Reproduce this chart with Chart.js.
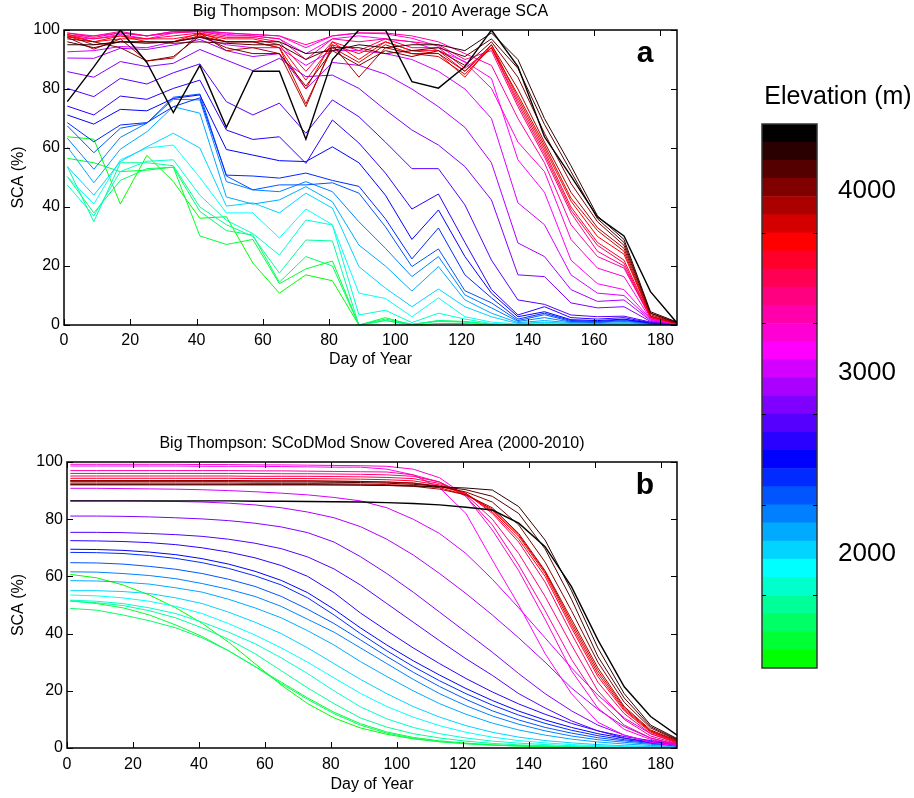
<!DOCTYPE html>
<html>
<head>
<meta charset="utf-8">
<script src="https://cdn.jsdelivr.net/npm/chart.js@4.4.1/dist/chart.umd.min.js"></script>
<style>
  body { margin: 0; background: #fff; }
  #wrap { position: relative; width: 914px; height: 798px; }
  canvas { position: absolute; }
</style>
</head>
<body>
<div id="wrap">
  <canvas id="panelA" width="700" height="380" style="left:0;top:0"></canvas>
  <canvas id="panelB" width="700" height="373" style="left:0;top:425px"></canvas>
  <canvas id="cbar" width="157" height="620" style="left:757px;top:70px"></canvas>
</div>
<script>
// Day of year of each sample (8-day composites)
const days = [1, 9, 17, 25, 33, 41, 49, 57, 65, 73, 81, 89, 97, 105, 113, 121, 129, 137, 145, 153, 161, 169, 177, 185];
const xTicks = [0, 20, 40, 60, 80, 100, 120, 140, 160, 180];
const yTicks = [0, 20, 40, 60, 80, 100];

// elevation band edges (m), 30 bands of 100 m, low -> high
const elevEdges = [1370, 1470, 1570, 1670, 1770, 1870, 1970, 2070, 2170, 2270, 2370, 2470, 2570, 2670, 2770,
  2870, 2970, 3070, 3170, 3270, 3370, 3470, 3570, 3670, 3770, 3870, 3970, 4070, 4170, 4270, 4370];
const cbLabels = [2000, 3000, 4000];
const cbMarks = [1770, 2270, 2770, 3270, 3770];

// MODIS average SCA (%), one row per elevation band, low -> high
const modisSCA = [
  [63.8, 63, 41, 57.5, 48.6, 36.2, 36.7, 21, 10.8, 17, 15, 0, 1.5, 0, 0.5, 0.5, 0, 0, 0, 0, 0, 0, 0, 0],
  [56.5, 55, 52, 52.5, 53.5, 30.2, 27.3, 29, 14, 19, 21.7, 0, 2.5, 0, 1.5, 1.2, 0.3, 0, 0, 0, 0, 0, 0, 0],
  [50.3, 38, 49, 53, 53.5, 38.5, 32, 30.5, 14.5, 23.2, 20, 0, 2, 0.3, 1.2, 1, 0.2, 0, 0, 0, 0, 0, 0, 0],
  [53.7, 35, 55, 55, 54, 40, 34, 30, 17.6, 28.8, 28.5, 0, 1.5, 0.2, 1.5, 1, 0.2, 0, 0, 0, 0, 0, 0, 0],
  [47.5, 37, 52, 55.5, 56, 44, 35.5, 31, 23.7, 35.6, 33.9, 3.4, 5, 0.8, 4, 2, 0.5, 0.2, 0.5, 0.2, 0.1, 0.2, 0, 0],
  [50.3, 41, 56, 60, 61, 50, 38, 38, 29.5, 39.3, 34, 10.8, 9, 2.8, 9.2, 2.8, 1, 0.3, 0.8, 0.3, 0.2, 0.3, 0.1, 0],
  [53.7, 44, 55.4, 60.4, 65, 60, 40.3, 41.4, 38, 44.7, 39.6, 19.8, 12.5, 6.2, 12.2, 6.2, 2.8, 0.5, 1, 0.5, 0.3, 0.5, 0.2, 0],
  [60.4, 48.2, 59.6, 65.5, 74, 71.8, 43.4, 41, 42.4, 46.9, 41.8, 27.1, 20, 11.5, 19.8, 8.5, 4, 0.8, 1.5, 0.8, 0.5, 0.8, 0.3, 0.1],
  [63.3, 52.8, 63.6, 68.4, 76.5, 76.3, 48.6, 45.8, 45.2, 48.6, 45.2, 35, 26, 16.4, 23.2, 10.2, 5.8, 1.2, 2.5, 1, 0.8, 1.2, 0.4, 0.1],
  [67.5, 58.4, 66.7, 68.4, 77.2, 78.3, 50.5, 45.8, 47.5, 47.5, 48.2, 44.7, 33.3, 19.8, 25.8, 11.6, 7.5, 1.5, 3.5, 1.2, 1, 1.5, 0.5, 0.2],
  [68.6, 62.1, 67.8, 68.6, 74, 77, 50.8, 50.5, 49.8, 51.5, 49, 47, 36, 22.4, 32.9, 17, 9.2, 2, 4, 1.5, 1.2, 1.8, 0.6, 0.2],
  [71.2, 68.1, 73.1, 72.6, 76.8, 78, 59.5, 57.6, 55.7, 55.4, 60.4, 55, 44, 29, 39, 23.2, 10.8, 2.8, 4.5, 1.8, 1.5, 2, 0.7, 0.2],
  [74.2, 71.2, 77.6, 76.5, 80.2, 83, 66.1, 62.9, 63.8, 54.8, 69.5, 61.7, 51.5, 39.3, 44.4, 28, 12, 3.4, 6.2, 2.5, 2, 2.5, 0.8, 0.2],
  [80.2, 77.4, 83.6, 81.7, 85.5, 88.5, 75.7, 71.2, 75.2, 65, 76.3, 70.6, 62, 53, 53, 40.7, 22, 8.5, 7, 3.4, 2.8, 3, 1, 0.2],
  [85.9, 84, 89.3, 87.6, 88.7, 93.4, 89.8, 86.2, 90.4, 84.2, 84.7, 80.2, 72.9, 66.1, 61, 53.7, 42.4, 17, 16.4, 7.5, 5.8, 6.2, 1.2, 0.2],
  [90.5, 90.4, 93.8, 93.4, 94.9, 96.8, 93, 91, 92, 80, 89, 88, 85, 80, 74, 67, 55, 27.8, 23.2, 12, 8, 8.5, 1.5, 0.2],
  [92.6, 93, 94.4, 94, 96, 97.5, 95, 94, 94, 88, 93, 93, 92, 90, 86, 80, 70, 41.4, 34, 17, 10.8, 10, 1.8, 0.3],
  [97.5, 97, 98.5, 97, 99, 99.5, 98.5, 98, 97, 92, 97, 98, 97, 96, 93, 89.3, 83.6, 56, 45, 22, 14, 12, 2, 0.3],
  [98, 98, 99, 98, 99.5, 99.5, 99, 98.5, 98, 94, 98, 99, 98.7, 97.2, 94.5, 89, 80.2, 62, 52, 29, 19.3, 16.4, 2, 0.3],
  [99, 98, 99.5, 98, 99.5, 100, 99, 98.5, 98, 95, 98, 99, 99, 98, 96, 92, 88, 70, 55, 34, 23.2, 19.3, 2.5, 0.3],
  [99, 97.5, 99, 98, 99, 99.5, 98, 98, 97, 90, 97, 96, 97, 96, 95, 90, 93, 74, 57, 38, 25, 20, 2.5, 0.4],
  [98.5, 97, 98, 97, 98, 99, 97.5, 97.5, 96, 86, 96, 93, 97, 94, 94, 87, 94, 75, 58, 39, 27, 21, 2.5, 0.4],
  [98.5, 96, 97, 97, 97, 98.5, 97, 97, 95, 83, 95, 92, 96, 93, 93, 86, 94, 76, 59, 40, 28, 22, 2.8, 0.4],
  [98, 96, 98, 96, 96, 99, 96, 96, 94, 80, 96, 90, 96, 93, 92, 84, 95, 77, 60, 42, 30, 24, 3, 0.5],
  [98, 95, 96, 96, 96, 98, 96, 96, 94, 75, 94, 89, 95, 92, 91, 85, 94, 78, 61, 43, 32, 25, 3, 0.5],
  [97.5, 93.5, 97, 89.5, 90.5, 99, 93, 94, 92, 74, 95, 84, 94, 92, 92, 86, 95, 80, 62, 45, 33, 26, 3.5, 0.6],
  [97, 96, 94, 89.5, 91, 98, 94, 92, 92, 81, 93, 88, 93, 91, 93, 88, 96, 84, 65, 48, 35, 27, 4, 0.7],
  [96, 94, 96, 96, 95.5, 96, 95.5, 95, 95, 90, 94, 94, 92, 93, 94, 91, 97, 87, 68, 52, 36, 28, 4, 0.8],
  [95, 95, 96, 95.5, 96, 97.5, 96, 96, 96, 92, 93, 95, 94, 95, 95, 93, 99, 90, 70, 54, 37, 29, 4.5, 1],
  [75.7, 87.5, 100, 89, 72, 88, 67, 86, 86, 63, 90, 100, 100, 82.5, 80.3, 87.6, 100, 87.6, 63.8, 50.5, 36.6, 30.2, 11.3, 0.7]
];

// SCoDMod modelled SCA (%), one row per elevation band, low -> high
const scodmodSCA = [
  [60.7, 59.5, 57, 53.5, 49, 43.6, 37, 29.5, 22, 15.5, 10.5, 7, 4.8, 3.2, 2.2, 1.5, 1, 0.7, 0.5, 0.3, 0.2, 0.1, 0.1, 0.1],
  [51.5, 50.5, 49, 46.5, 43, 39, 34, 28.5, 23, 17.5, 12.5, 8.5, 5.6, 3.7, 2.5, 1.7, 1.1, 0.8, 0.5, 0.3, 0.2, 0.1, 0.1, 0.1],
  [48.8, 48.2, 46.5, 44.5, 42, 38.5, 34, 28.5, 22.5, 17, 12, 8, 5.2, 3.4, 2.2, 1.5, 1, 0.7, 0.5, 0.3, 0.2, 0.1, 0.1, 0.1],
  [51.3, 50.8, 49.8, 48, 45.5, 42, 38, 33, 27, 21, 15.5, 10.5, 7.3, 5, 3.5, 2.4, 1.6, 1.1, 0.8, 0.5, 0.3, 0.2, 0.1, 0.1],
  [51.7, 51.3, 50.5, 49, 47, 44, 40.5, 36.5, 31.5, 26, 20, 14.4, 10.2, 7.2, 5, 3.5, 2.4, 1.7, 1.2, 0.8, 0.5, 0.3, 0.2, 0.1],
  [53.5, 53.2, 52.5, 51.3, 49.5, 47, 43.5, 39.5, 35, 30, 24.5, 19.1, 14.5, 10.8, 7.8, 5.5, 3.8, 2.6, 1.8, 1.2, 0.8, 0.5, 0.3, 0.2],
  [55, 55, 54.7, 54, 52.5, 50.5, 47.5, 44, 40, 35, 29.5, 24, 19, 14.5, 10.8, 7.8, 5.5, 3.8, 2.6, 1.8, 1.2, 0.8, 0.5, 0.3],
  [58.5, 58.4, 58, 57.3, 56, 54.5, 52, 49, 45.5, 41, 36, 30.2, 25, 20, 15.5, 11.8, 8.7, 6.3, 4.5, 3.1, 2.1, 1.4, 0.9, 0.5],
  [61.6, 61.5, 61, 60.3, 59.2, 57.5, 55.5, 53, 49.5, 45, 40.5, 35, 29.5, 24, 19, 14.8, 11.2, 8.3, 6, 4.2, 2.9, 2, 1.3, 0.8],
  [64.8, 64.7, 64.3, 63.5, 62.5, 61, 59, 56.5, 53, 48.5, 43.5, 37.8, 32, 26.5, 21.5, 17, 13, 9.8, 7.2, 5.2, 3.6, 2.5, 1.6, 1],
  [68.4, 68.3, 68, 67.3, 66.3, 64.8, 62.8, 60.2, 57, 52.5, 46.5, 40, 34, 28.5, 23.5, 19, 15, 11.5, 8.6, 6.2, 4.3, 2.9, 1.9, 1.2],
  [69.5, 69.4, 69.1, 68.5, 67.6, 66.2, 64.3, 61.8, 58.6, 54.3, 48.5, 42, 36, 30.5, 25.5, 20.8, 16.6, 12.9, 9.8, 7.2, 5, 3.4, 2.2, 1.4],
  [72.5, 72.4, 72.2, 71.8, 71.1, 70, 68.5, 66.5, 63.8, 60, 54.3, 47.2, 41, 35, 29.5, 24.3, 19.6, 15.4, 11.8, 8.6, 6, 4, 2.6, 1.6],
  [75.4, 75.4, 75.3, 75, 74.6, 74, 73, 71.6, 69.7, 66.8, 62.6, 57, 50.5, 44, 37.5, 31.2, 25.4, 19, 14, 9.5, 6, 3.5, 1.8, 0.7],
  [81.1, 81.1, 81, 80.8, 80.5, 80.1, 79.5, 78.6, 77.3, 75.3, 72, 66.9, 61, 54.5, 47.5, 40.5, 33.5, 26, 19, 13, 8, 4.5, 2.2, 0.8],
  [86.4, 86.4, 86.4, 86.3, 86.2, 86, 85.6, 85, 84, 82.5, 80.5, 77.4, 73, 67.5, 61, 54, 46.5, 38.5, 30, 21, 13.5, 7.5, 3.5, 1.2],
  [90.8, 90.8, 90.7, 90.6, 90.5, 90.3, 90, 89.6, 89.1, 88.5, 87.6, 86.4, 84, 80, 75, 68, 59, 49, 38.5, 28, 18.5, 10.5, 5, 1.8],
  [98.6, 98.6, 98.6, 98.6, 98.6, 98.5, 98.5, 98.5, 98.4, 98.3, 98.2, 98.2, 97.5, 95.5, 91, 82, 65.7, 50, 33, 19, 9, 4.5, 2, 0.7],
  [99.2, 99.2, 99.2, 99.2, 99.2, 99.1, 99.1, 99, 99, 98.9, 98.8, 98.7, 98.5, 97.5, 94.5, 88, 76.2, 62, 45, 27, 14, 6.5, 3, 1],
  [97, 97, 97, 97, 97, 97, 97, 96.9, 96.9, 96.8, 96.7, 96.6, 96.5, 95.5, 93, 88, 78, 64, 48, 31, 17, 8, 3.5, 1.2],
  [96, 96, 96, 96, 96, 96, 96, 96, 95.9, 95.9, 95.8, 95.7, 95.5, 95, 93, 88.5, 80, 68, 53, 36, 20, 10, 4.2, 1.5],
  [95.1, 95.1, 95.1, 95.1, 95.1, 95.1, 95.1, 95, 95, 95, 94.9, 94.8, 94.6, 94.2, 92.5, 89, 82, 72, 58, 40, 23, 12, 5, 1.8],
  [94.3, 94.3, 94.3, 94.3, 94.3, 94.3, 94.3, 94.2, 94.2, 94.2, 94.1, 94, 93.8, 93.4, 92, 89, 82.5, 73, 60, 42, 25, 13, 5.5, 2],
  [93.5, 93.5, 93.5, 93.5, 93.5, 93.5, 93.5, 93.4, 93.4, 93.4, 93.3, 93.2, 93, 92.7, 91.5, 89, 83, 74, 61, 43, 26, 13.5, 5.8, 2.2],
  [92.6, 92.6, 92.6, 92.6, 92.6, 92.6, 92.6, 92.5, 92.5, 92.5, 92.4, 92.3, 92.1, 91.8, 91, 88.5, 83.5, 74.5, 61.6, 44, 27, 14, 6, 2.4],
  [92.2, 92.2, 92.2, 92.2, 92.2, 92.2, 92.2, 92.1, 92.1, 92.1, 92, 92, 91.8, 91.5, 90.5, 88.5, 84, 75, 62, 45, 28, 14.5, 6.3, 2.6],
  [93.5, 93.5, 93.5, 93.5, 93.5, 93.5, 93.5, 93.4, 93.4, 93.4, 93.3, 93.2, 93, 92.6, 91.5, 89.5, 86, 78, 65, 48, 30, 16, 7, 2.8],
  [93.1, 93.1, 93.1, 93.1, 93.1, 93.1, 93.1, 93, 93, 93, 92.9, 92.8, 92.6, 92.2, 91.5, 90.3, 88, 82, 69.6, 52, 32, 17.5, 7.5, 3],
  [92, 92, 92, 92, 92, 92, 92, 92, 92, 92, 92, 91.9, 91.8, 91.6, 91.3, 90.9, 90.2, 84.4, 72.7, 55, 35, 19, 8, 3.3],
  [86.4, 86.4, 86.4, 86.4, 86.4, 86.4, 86.4, 86.3, 86.3, 86.2, 86.1, 86, 85.8, 85.5, 85, 84.2, 83.2, 78.6, 70.4, 56.4, 37.8, 21.4, 11, 4.5]
];

// colormap, low -> high elevation
const bandColors = ['#00ff00', '#00ff33', '#00ff66', '#00ff99', '#00ffcc', '#00ffff', '#00d4ff', '#00aaff', '#0080ff', '#0055ff',
  '#002aff', '#0000ff', '#2a00ff', '#5500ff', '#8000ff', '#aa00ff', '#d400ff', '#ff00ff', '#ff00d4', '#ff00aa',
  '#ff0080', '#ff0055', '#ff002a', '#ff0000', '#d40000', '#aa0000', '#800000', '#550000', '#2a0000', '#000000'];

const FONT = "'Liberation Sans', Arial, sans-serif";
Chart.defaults.font.family = FONT;
Chart.defaults.color = '#000';

// box round the plot area, inward ticks on all sides, title and panel letter
const boxPlugin = {
  id: 'matlabBox',
  afterDraw(chart, args, opts) {
    const ctx = chart.ctx;
    const a = chart.chartArea;
    const xs = chart.scales.x, ys = chart.scales.y;
    ctx.save();
    ctx.strokeStyle = '#000';
    ctx.lineWidth = 1.5;
    ctx.strokeRect(a.left, a.top, a.right - a.left, a.bottom - a.top);
    ctx.lineWidth = 1;
    ctx.beginPath();
    xTicks.forEach(v => {
      const px = Math.round(xs.getPixelForValue(v)) + 0.5;
      ctx.moveTo(px, a.bottom); ctx.lineTo(px, a.bottom - 6);
      ctx.moveTo(px, a.top); ctx.lineTo(px, a.top + 6);
    });
    yTicks.forEach(v => {
      const py = Math.round(ys.getPixelForValue(v)) + 0.5;
      ctx.moveTo(a.left, py); ctx.lineTo(a.left + 6, py);
      ctx.moveTo(a.right, py); ctx.lineTo(a.right - 6, py);
    });
    ctx.stroke();
    ctx.fillStyle = '#000';
    ctx.textAlign = 'center';
    ctx.textBaseline = 'middle';
    ctx.font = '16px ' + FONT;
    ctx.fillText(opts.title, (a.left + a.right) / 2, a.top - 18);
    ctx.font = 'bold 30px ' + FONT;
    ctx.fillText(opts.letter, a.right - 32, a.top + 24);
    ctx.restore();
  }
};

function makePanel(id, title, letter, rows, pad, yAxisW, xAxisH, xTickPad) {
  // highest band first so the black line sits on top
  const datasets = rows.map((row, i) => ({
    label: String(elevEdges[i]),
    data: row.map((v, j) => ({ x: days[j], y: v })),
    borderColor: bandColors[i],
    borderWidth: i === rows.length - 1 ? 1.4 : 1,
    pointRadius: 0,
    tension: 0,
    fill: false
  })).reverse();

  return new Chart(document.getElementById(id), {
    type: 'line',
    data: { datasets },
    options: {
      responsive: false,
      animation: false,
      devicePixelRatio: 1,
      layout: { padding: pad },
      plugins: {
        legend: { display: false },
        tooltip: { enabled: false },
        title: { display: false },
        matlabBox: { letter, title }
      },
      scales: {
        x: {
          type: 'linear', min: 0, max: 185,
          grid: { display: false, drawTicks: false },
          border: { display: false },
          ticks: { font: { size: 16 }, padding: xTickPad, maxRotation: 0 },
          afterBuildTicks: s => { s.ticks = xTicks.map(v => ({ value: v })); },
          afterFit: s => { s.height = xAxisH; },
          title: { display: true, text: 'Day of Year', font: { size: 16 }, padding: { top: 0, bottom: 1 } }
        },
        y: {
          min: 0, max: 100,
          grid: { display: false, drawTicks: false },
          border: { display: false },
          ticks: { font: { size: 16 }, padding: 4 },
          afterBuildTicks: s => { s.ticks = yTicks.map(v => ({ value: v })); },
          afterFit: s => { s.width = yAxisW; },
          title: { display: true, text: 'SCA (%)', font: { size: 16 }, padding: { top: 9, bottom: 0 } }
        }
      }
    },
    plugins: [boxPlugin]
  });
}

makePanel('panelA', 'Big Thompson: MODIS 2000 - 2010 Average SCA', 'a', modisSCA,
  { left: 0, right: 23, top: 30, bottom: 10 }, 64, 45, 6);
makePanel('panelB', 'Big Thompson: SCoDMod Snow Covered Area (2000-2010)', 'b', scodmodSCA,
  { left: 0, right: 23, top: 37, bottom: 3 }, 67, 47, 7);

// colorbar: one floating bar per elevation band
const cbFrame = {
  id: 'cbFrame',
  afterDraw(chart) {
    const ctx = chart.ctx;
    const a = chart.chartArea;
    const ys = chart.scales.y;
    ctx.save();
    ctx.strokeStyle = '#333';
    ctx.lineWidth = 1.5;
    ctx.strokeRect(a.left, a.top, a.right - a.left, a.bottom - a.top);
    ctx.strokeStyle = '#000';
    ctx.lineWidth = 1;
    ctx.beginPath();
    cbMarks.forEach(v => {
      const py = Math.round(ys.getPixelForValue(v)) + 0.5;
      ctx.moveTo(a.left, py); ctx.lineTo(a.left + 4, py);
      ctx.moveTo(a.right, py); ctx.lineTo(a.right - 4, py);
    });
    ctx.stroke();
    ctx.restore();
  }
};

new Chart(document.getElementById('cbar'), {
  type: 'bar',
  data: {
    labels: [''],
    datasets: bandColors.map((c, i) => ({
      data: [[elevEdges[i], elevEdges[i + 1]]],
      backgroundColor: c,
      borderWidth: 0,
      barPercentage: 1,
      categoryPercentage: 1,
      grouped: false
    }))
  },
  options: {
    responsive: false,
    animation: false,
    devicePixelRatio: 1,
    layout: { padding: { left: 5, right: 0, top: 0, bottom: 22 } },
    plugins: {
      legend: { display: false },
      tooltip: { enabled: false },
      title: { display: true, text: 'Elevation (m)', font: { size: 25, weight: 'normal' }, color: '#000', padding: { top: 12, bottom: 12 } }
    },
    scales: {
      x: { display: false },
      y: {
        position: 'right', min: 1370, max: 4370,
        grid: { display: false, drawTicks: true, tickLength: 21 },
        border: { display: false },
        ticks: { font: { size: 26 }, padding: 0, callback: v => String(v) },
        afterBuildTicks: s => { s.ticks = cbLabels.map(v => ({ value: v })); },
        afterFit: s => { s.width = 97; }
      }
    }
  },
  plugins: [cbFrame]
});
</script>
</body>
</html>
